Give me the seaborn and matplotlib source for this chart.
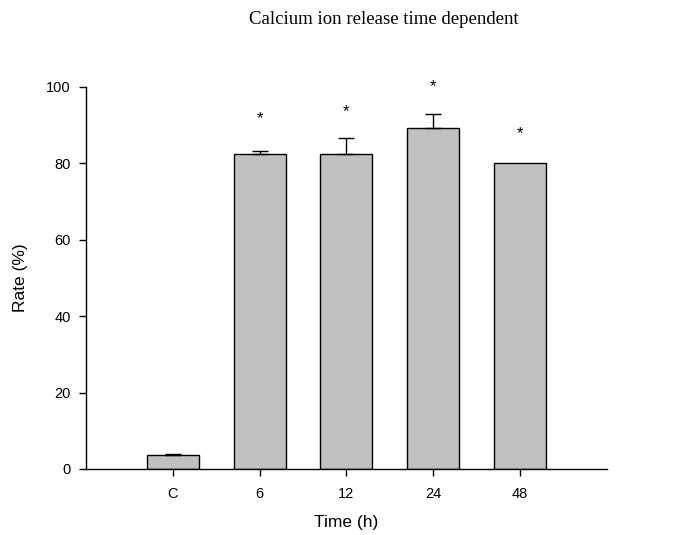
import matplotlib
matplotlib.use("Agg")
import matplotlib.pyplot as plt
import seaborn as sns
import pandas as pd
import numpy as np

categories = ["C", "6", "12", "24", "48"]
rates = [3.7, 82.5, 82.3, 89.3, 80.0]
errors = [0.25, 0.7, 4.4, 3.6, 0.0]
stars = ["", "*", "*", "*", "*"]
star_y = [None, 91.6, 93.6, 99.9, 87.8]

sns.set_theme(style="ticks")
plt.rcParams['font.family'] = ['Liberation Sans', 'DejaVu Sans']

df = pd.DataFrame({"Time": categories, "Rate": rates})

fig = plt.figure(figsize=(6.75, 5.35), dpi=100)
ax = fig.add_axes([0.1274, 0.1234, 0.7714, 0.7146])

sns.barplot(data=df, x="Time", y="Rate", order=categories, color="#c0c0c0",
            edgecolor="black", linewidth=1.0, width=0.6, errorbar=None,
            saturation=1, ax=ax)

x = np.arange(len(categories))
for xi, r, e in zip(x, rates, errors):
    if e > 0:
        ax.errorbar(xi, r, yerr=[[0], [e]], fmt="none", ecolor="black",
                    elinewidth=1.0, capsize=5.5, capthick=1.0)

for xi, s, sy in zip(x, stars, star_y):
    if s:
        ax.text(xi, sy, s, ha="center", va="center", fontsize=12, color="black")

ax.set_xlim(-1, 5)
ax.set_ylim(0, 100)
ax.set_yticks([0, 20, 40, 60, 80, 100])
ax.tick_params(axis="both", direction="out", length=5, width=1, labelsize=10.5,
               colors="black")
ax.tick_params(axis="x", pad=8)
ax.tick_params(axis="y", pad=6)
ax.spines["top"].set_visible(False)
ax.spines["right"].set_visible(False)
for sp in ["left", "bottom"]:
    ax.spines[sp].set_linewidth(1.0)
    ax.spines[sp].set_color("black")
ax.set_xlabel("Time (h)", fontsize=12.5, labelpad=10, color="black")
ax.set_ylabel("Rate (%)", fontsize=12.5, labelpad=13, color="black")

fig.text(384 / 675, 1 - 20 / 535, "Calcium ion release time dependent",
         ha="center", va="center", fontsize=13.5, family=["Liberation Serif"],
         color="black")

fig.savefig("out.png", dpi=100)
